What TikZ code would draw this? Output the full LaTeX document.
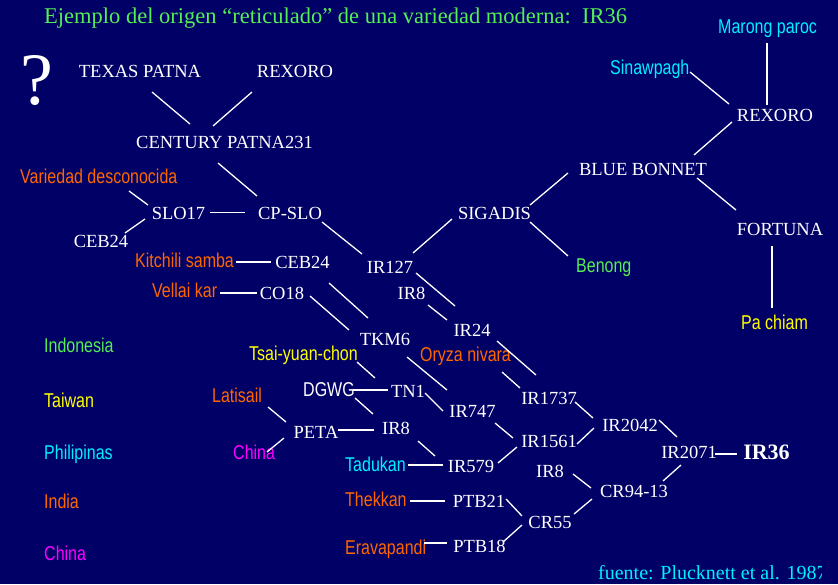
\documentclass[tikz,border=0pt]{standalone}
\usepackage{fontspec}
\setmainfont{Liberation Serif}
\newfontfamily\nsans[FakeStretch=0.8]{Liberation Sans}
\usetikzlibrary{calc}
\definecolor{bgc}{HTML}{000066}
\definecolor{orc}{HTML}{FF6600}
\definecolor{yec}{HTML}{FFFF00}
\definecolor{cyc}{HTML}{00F0FF}
\definecolor{mgc}{HTML}{FF00FF}
\definecolor{grc}{HTML}{55EE55}
\tikzset{
  wlab/.style={text=white, font=\fontsize{18.5}{18.5}\selectfont, inner sep=0pt, text height=12.2pt, text depth=0pt, anchor=center},
  clab/.style={font=\nsans\fontsize{20}{20}\selectfont, inner sep=0pt, text height=14.3pt, text depth=0pt, anchor=west},
  link/.style={draw=white, line width=1.3pt}
}
\newcommand\lnkk[4]{\draw[link] ($(#1)+(#2)$) -- ($(#3)+(#4)$);}
\begin{document}
\begin{tikzpicture}[x=1pt,y=-1pt]
\useasboundingbox (0,0) rectangle (838,584);
\fill[bgc] (0,0) rectangle (838,584);
% title
\node[anchor=west, text=grc, font=\fontsize{22.5}{22.5}\selectfont, inner sep=0pt, text height=14.5pt, text depth=0pt] (title) at (44,16.5) {Ejemplo del origen “reticulado” de una variedad moderna:\hspace{0.5em}IR36};
\node[anchor=base, text=white, font=\fontsize{74}{74}\selectfont, inner sep=0pt] (qm) at (37,104) {?};
% white serif nodes
\node[wlab] (texas) at (140,71.5) {TEXAS PATNA};
\node[wlab] (rexA) at (295,71.5) {REXORO};
\node[wlab] (century) at (224.5,142) {CENTURY PATNA231};
\node[wlab] (slo17) at (178.5,213) {SLO17};
\node[wlab] (cpslo) at (290,213) {CP-SLO};
\node[wlab] (ceb24L) at (101,241) {CEB24};
\node[wlab] (ceb24M) at (302.5,262.5) {CEB24};
\node[wlab] (co18) at (282,293.5) {CO18};
\node[wlab] (ir127) at (390,267.5) {IR127};
\node[wlab] (ir8a) at (411.5,293.5) {IR8};
\node[wlab] (ir24) at (472,330.5) {IR24};
\node[wlab] (tkm6) at (385,339.5) {TKM6};
\node[wlab] (sigadis) at (494.5,213) {SIGADIS};
\node[wlab] (blue) at (643,169.5) {BLUE BONNET};
\node[wlab] (rexB) at (775,115.5) {REXORO};
\node[wlab] (fortuna) at (780,229.5) {FORTUNA};
\node[wlab] (tn1) at (408,391) {TN1};
\node[wlab] (ir8b) at (396,428) {IR8};
\node[wlab] (peta) at (316,432.5) {PETA};
\node[wlab] (ir747) at (472.5,411.5) {IR747};
\node[wlab] (ir1737) at (549,398) {IR1737};
\node[wlab] (ir1561) at (549,441) {IR1561};
\node[wlab] (ir579) at (471,466.5) {IR579};
\node[wlab] (ir2042) at (630,425.5) {IR2042};
\node[wlab] (ir2071) at (689,452) {IR2071};
\node[wlab, font=\bfseries\fontsize{22}{22}\selectfont, text height=14.8pt] (ir36) at (766.5,452.5) {IR36};
\node[wlab] (ir8c) at (550,471) {IR8};
\node[wlab] (cr9413) at (634,491) {CR94-13};
\node[wlab] (cr55) at (550,522.5) {CR55};
\node[wlab] (ptb21) at (479,501) {PTB21};
\node[wlab] (ptb18) at (479.5,546) {PTB18};
% coloured sans nodes
\node[clab, text=orc] (variedad) at (20,176) {Variedad desconocida};
\node[clab, text=orc] (kitchili) at (135,260) {Kitchili samba};
\node[clab, text=orc] (vellai) at (152,290) {Vellai kar};
\node[clab, text=yec] (tsai) at (249,353) {Tsai-yuan-chon};
\node[clab, text=orc] (latisail) at (212,395) {Latisail};
\node[clab, text=mgc] (chinaN) at (233,452) {China};
\node[clab, text=cyc] (tadukan) at (345,464) {Tadukan};
\node[clab, text=orc] (thekkan) at (345,499) {Thekkan};
\node[clab, text=orc] (erava) at (345,547) {Eravapandi};
\node[clab, text=white] (dgwg) at (303,389) {DGWG};
\node[clab, text=orc] (oryza) at (420,354) {Oryza nivara};
\node[clab, text=grc] (benong) at (576,265) {Benong};
\node[clab, text=yec] (pachiam) at (741,322) {Pa chiam};
\node[clab, text=cyc] (sinaw) at (610,67) {Sinawpagh};
\node[clab, text=cyc] (marong) at (718,26) {Marong paroc};
% legend
\node[clab, text=grc] (lind) at (44,345) {Indonesia};
\node[clab, text=yec] (ltai) at (44,400) {Taiwan};
\node[clab, text=cyc] (lphi) at (44,452) {Philipinas};
\node[clab, text=orc] (lindia) at (44,501) {India};
\node[clab, text=mgc] (lchina) at (44,553) {China};
% source
\begin{scope}
\clip (0,0) rectangle (821,584);
\node[anchor=west, text=cyc, font=\fontsize{20}{20}\selectfont, inner sep=0pt, text height=13.2pt, text depth=0pt] (src) at (598,572.5) {fuente: Plucknett et al. 1987};
\end{scope}
% connectors
\lnkk{texas}{12,20.5}{century}{-34.5,-18}
\lnkk{rexA}{-43,20.5}{century}{-11.5,-16}
\lnkk{variedad.west}{109,15}{slo17}{-30.5,-8}
\lnkk{ceb24L}{24,-8}{slo17}{-33.5,6}
\lnkk{slo17}{31.5,-0.5}{cpslo}{-45,-0.5}
\lnkk{century}{-6.5,21}{cpslo}{-33,-17}
\lnkk{cpslo}{32,9}{ir127}{-28,-13.5}
\lnkk{sigadis}{-42.5,6}{ir127}{23,-14.5}
\lnkk{blue}{-75,3.5}{sigadis}{35.5,-8}
\lnkk{sigadis}{35.5,9}{benong.west}{-8,-9}
\lnkk{blue}{51,-14.5}{rexB}{-43,6.5}
\lnkk{sinaw.west}{80,5}{rexB}{-46,-11.5}
\lnkk{marong.west}{49,17}{rexB}{-8,-10.5}
\lnkk{blue}{54,8.5}{fortuna}{-44,-19.5}
\lnkk{fortuna}{-8,16.5}{pachiam.west}{31,-14}
\lnkk{kitchili.west}{101,2}{ceb24M}{-31.5,-0.5}
\lnkk{vellai.west}{68,3}{co18}{-25,-0.5}
\lnkk{ceb24M}{26.5,20.5}{tkm6}{-17,-21.5}
\lnkk{co18}{28,2.5}{tkm6}{-36,-9.5}
\lnkk{ir127}{26,5.5}{ir24}{-17,-24.5}
\lnkk{ir8a}{16.5,11.5}{ir24}{-25,-10.5}
\lnkk{ir24}{25,10.5}{ir1737}{-13,-23}
\lnkk{oryza.west}{82,18}{ir1737}{-29,-10}
\lnkk{tkm6}{22,17.5}{ir747}{-25.5,-21.5}
\lnkk{tsai.west}{108,9}{tn1}{-33,-13}
\lnkk{tn1}{17,2}{ir747}{-29.5,-0.5}
\lnkk{dgwg.west}{50,1}{tn1}{-20,-1}
\lnkk{dgwg.west}{52,9}{ir8b}{-23,-14}
\lnkk{peta}{22,-2.5}{ir8b}{-22,2}
\lnkk{latisail.west}{56,12}{peta}{-30,-10.5}
\lnkk{chinaN.west}{34,0}{peta}{-32,5.5}
\lnkk{tadukan.west}{63,1}{ir579}{-28,-1.5}
\lnkk{ir8b}{22,13}{ir579}{-36,-10.5}
\lnkk{ir747}{22.5,11.5}{ir1561}{-36,-3}
\lnkk{ir579}{27,-3.5}{ir1561}{-32,6}
\lnkk{ir1737}{26,4}{ir2042}{-37,-7.5}
\lnkk{ir1561}{28,3}{ir2042}{-36,2.5}
\lnkk{ir2042}{29,-5.5}{ir2071}{-12,-15}
\lnkk{ir2071}{26,2}{ir36}{-29.5,1.5}
\lnkk{ir8c}{23,3}{cr9413}{-43,-3}
\lnkk{cr9413}{29,-10}{ir2071}{-8,13}
\lnkk{cr55}{24,-8.5}{cr9413}{-42,8}
\lnkk{ptb21}{27,-2}{cr55}{-28,-6.5}
\lnkk{ptb18}{23.5,-4}{cr55}{-28,2.5}
\lnkk{thekkan.west}{65,2}{ptb21}{-34,0}
\lnkk{erava.west}{79,-4}{ptb18}{-32.5,-3}
\end{tikzpicture}
\end{document}
